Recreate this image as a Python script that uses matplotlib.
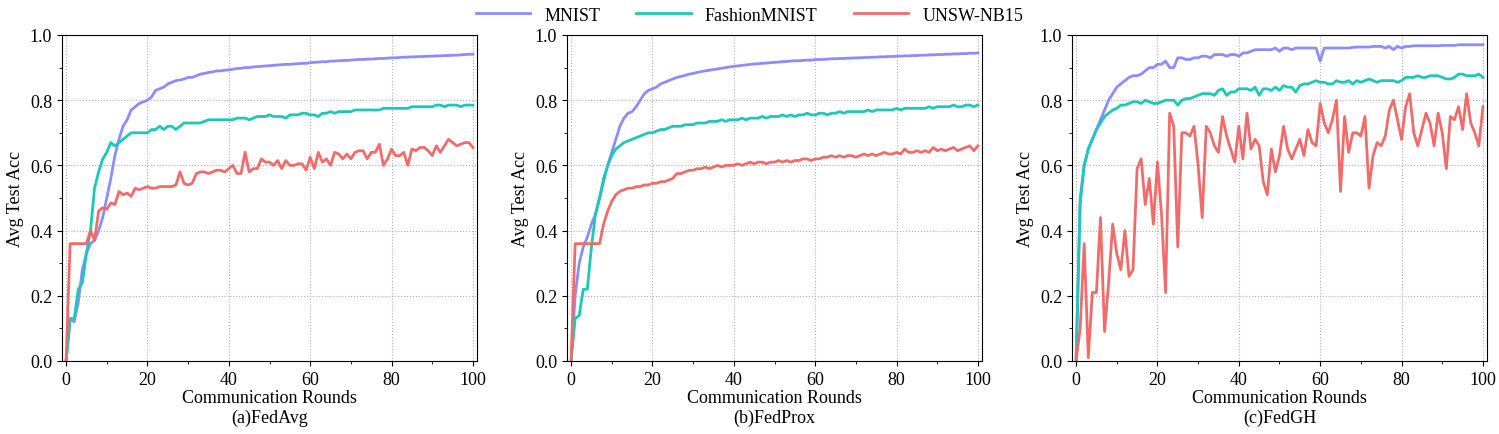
import matplotlib.pyplot as plt
from matplotlib.ticker import AutoMinorLocator

plt.rcParams['font.family'] = 'Liberation Serif'
plt.rcParams['font.size'] = 13

rounds = list(range(101))

# (a) FedAvg
avg_mnist = [
    0, .13, .12, .18, .28, .33, .36, .37, .40, .44,
    .50, .56, .63, .68, .72, .74, .77, .78, .79, .795,
    .80, .81, .83, .835, .84, .85, .855, .86, .862, .865,
    .87, .87, .875, .88, .882, .885, .887, .89, .89, .892,
    .893, .895, .897, .898, .90, .90, .902, .903, .904, .905,
    .906, .907, .908, .909, .91, .91, .911, .912, .913, .913,
    .915, .916, .917, .918, .918, .92, .92, .921, .922, .922,
    .923, .924, .925, .925, .926, .926, .927, .928, .928, .929,
    .93, .93, .931, .932, .932, .933, .933, .934, .934, .935,
    .935, .936, .936, .937, .937, .938, .938, .939, .94, .941, .941]
avg_fashion = [
    0, .13, .13, .22, .24, .33, .40, .53, .58, .62,
    .64, .67, .66, .67, .68, .69, .70, .70, .70, .70,
    .70, .71, .71, .72, .71, .72, .72, .71, .72, .73,
    .73, .73, .73, .73, .735, .74, .74, .74, .74, .74,
    .74, .74, .745, .745, .745, .74, .745, .75, .75, .75,
    .755, .75, .75, .75, .745, .755, .755, .755, .76, .76,
    .755, .755, .75, .76, .76, .765, .76, .765, .765, .765,
    .765, .77, .77, .77, .77, .77, .77, .77, .775, .775,
    .775, .775, .775, .775, .775, .78, .78, .78, .78, .78,
    .78, .785, .785, .78, .785, .785, .785, .78, .785, .785, .785]
avg_unsw = [
    0, .36, .36, .36, .36, .36, .40, .37, .46, .47,
    .465, .485, .48, .52, .51, .515, .505, .53, .525, .53,
    .535, .53, .53, .535, .535, .535, .535, .54, .58, .545,
    .54, .545, .575, .58, .58, .575, .58, .585, .585, .58,
    .59, .60, .575, .575, .64, .58, .59, .59, .62, .61,
    .61, .60, .615, .59, .615, .60, .60, .605, .605, .585,
    .625, .59, .64, .61, .62, .60, .64, .635, .62, .635,
    .62, .64, .645, .645, .62, .64, .64, .665, .60, .62,
    .65, .63, .63, .64, .60, .65, .645, .655, .655, .645,
    .63, .66, .64, .66, .68, .67, .66, .665, .67, .67, .655]

# (b) FedProx
prox_mnist = [
    0, .20, .30, .35, .38, .42, .45, .50, .55, .60,
    .64, .68, .72, .745, .76, .765, .78, .80, .82, .83,
    .835, .84, .85, .855, .86, .865, .87, .873, .876, .88,
    .882, .885, .888, .89, .892, .894, .896, .898, .90, .902,
    .904, .905, .907, .908, .91, .911, .912, .913, .914, .915,
    .916, .917, .918, .919, .92, .921, .921, .922, .923, .923,
    .924, .925, .925, .926, .927, .927, .928, .928, .929, .929,
    .93, .93, .931, .931, .932, .932, .933, .933, .934, .934,
    .935, .935, .936, .936, .937, .937, .938, .938, .939, .939,
    .94, .94, .941, .941, .942, .942, .943, .943, .944, .944, .945]
prox_fashion = [
    0, .13, .14, .22, .22, .35, .45, .50, .56, .60,
    .63, .65, .66, .67, .675, .68, .685, .69, .695, .70,
    .70, .705, .71, .71, .715, .72, .72, .72, .725, .725,
    .725, .73, .73, .73, .735, .735, .735, .74, .735, .74,
    .74, .74, .745, .74, .745, .745, .745, .75, .745, .75,
    .75, .75, .755, .75, .755, .75, .755, .755, .76, .755,
    .755, .76, .76, .755, .76, .76, .765, .76, .765, .765,
    .765, .765, .765, .77, .765, .77, .77, .77, .77, .77,
    .775, .77, .775, .775, .775, .775, .775, .775, .78, .775,
    .78, .78, .78, .78, .785, .78, .78, .785, .785, .78, .785]
prox_unsw = [
    0, .36, .36, .36, .36, .36, .36, .36, .42, .46,
    .49, .51, .52, .525, .53, .53, .535, .535, .54, .54,
    .545, .545, .55, .55, .555, .56, .575, .575, .58, .585,
    .585, .59, .59, .595, .59, .595, .60, .595, .60, .60,
    .60, .605, .60, .605, .61, .605, .61, .61, .605, .61,
    .61, .615, .61, .615, .61, .615, .615, .62, .62, .615,
    .62, .62, .625, .625, .63, .625, .63, .625, .63, .63,
    .625, .63, .635, .63, .635, .63, .635, .64, .635, .635,
    .64, .635, .65, .64, .64, .645, .64, .645, .64, .655,
    .645, .65, .645, .65, .655, .645, .65, .655, .66, .645, .66]

# (c) FedGH
gh_mnist = [
    0, .50, .60, .65, .68, .71, .74, .77, .80, .82,
    .84, .85, .86, .87, .875, .875, .88, .89, .90, .90,
    .91, .91, .92, .90, .90, .93, .93, .925, .925, .93,
    .93, .935, .935, .93, .94, .94, .94, .935, .94, .94,
    .935, .945, .945, .95, .955, .955, .955, .955, .955, .96,
    .95, .96, .96, .955, .96, .96, .96, .96, .96, .96,
    .92, .96, .96, .96, .96, .96, .96, .96, .962, .963,
    .963, .963, .963, .965, .965, .965, .96, .965, .955, .965,
    .96, .965, .965, .967, .967, .967, .967, .967, .967, .967,
    .968, .968, .968, .968, .97, .97, .97, .97, .97, .97, .97]
gh_fashion = [
    0, .48, .60, .65, .68, .71, .73, .75, .76, .77,
    .775, .785, .785, .79, .795, .795, .79, .80, .795, .79,
    .79, .795, .80, .80, .80, .785, .80, .805, .805, .81,
    .815, .82, .82, .82, .815, .83, .835, .815, .825, .825,
    .835, .835, .835, .83, .84, .815, .835, .835, .83, .84,
    .83, .845, .84, .84, .825, .845, .85, .85, .855, .86,
    .855, .855, .85, .85, .86, .855, .855, .86, .85, .86,
    .855, .86, .865, .86, .855, .86, .86, .86, .86, .855,
    .86, .87, .87, .87, .875, .87, .87, .875, .875, .875,
    .87, .865, .865, .87, .88, .88, .875, .875, .875, .88, .87]
gh_unsw = [
    0, .10, .36, .01, .21, .21, .44, .09, .24, .42,
    .33, .28, .40, .26, .28, .59, .62, .48, .56, .42,
    .61, .45, .21, .76, .72, .35, .70, .70, .69, .72,
    .60, .44, .72, .70, .66, .64, .75, .69, .65, .61,
    .72, .62, .76, .65, .68, .66, .55, .51, .65, .58,
    .63, .72, .65, .62, .65, .68, .63, .71, .67, .66,
    .79, .73, .70, .74, .80, .52, .75, .64, .70, .70,
    .69, .75, .53, .63, .67, .66, .69, .77, .80, .74,
    .68, .78, .82, .70, .66, .71, .76, .73, .66, .76,
    .70, .59, .75, .74, .78, .71, .82, .73, .70, .66, .78]

labels = ['MNIST', 'FashionMNIST', 'UNSW-NB15']
colors = ['#8c8cff', '#1cc8b8', '#f26b6b']
panels = [
    ('(a)FedAvg', [avg_mnist, avg_fashion, avg_unsw]),
    ('(b)FedProx', [prox_mnist, prox_fashion, prox_unsw]),
    ('(c)FedGH', [gh_mnist, gh_fashion, gh_unsw]),
]
lefts = [62, 567, 1072]

fig = plt.figure(figsize=(14.99, 4.35), dpi=100)
for left, (title, series) in zip(lefts, panels):
    ax = fig.add_axes([left / 1499, 73 / 435, 415 / 1499, 326 / 435])
    for ys, lab, c in zip(series, labels, colors):
        ax.plot(rounds, ys, color=c, lw=2, label=lab)
    ax.set_xlim(-1, 101)
    ax.set_ylim(0, 1)
    ax.set_xticks([0, 20, 40, 60, 80, 100])
    ax.set_yticks([0, .2, .4, .6, .8, 1.0])
    ax.xaxis.set_minor_locator(AutoMinorLocator(2))
    ax.yaxis.set_minor_locator(AutoMinorLocator(2))
    ax.grid(True, ls=':', color='#b0b0b0', lw=0.8)
    ax.set_ylabel('Avg Test Acc')
    ax.set_xlabel('Communication Rounds\n' + title, labelpad=1, linespacing=1.2)
    ax.tick_params(labelsize=13)

handles, labs = ax.get_legend_handles_labels()
fig.legend(handles, labs, loc='upper center', ncol=3, frameon=False,
           bbox_to_anchor=(0.5, 1.02), handlelength=3, columnspacing=2)
fig.savefig('out.png', dpi=100)
